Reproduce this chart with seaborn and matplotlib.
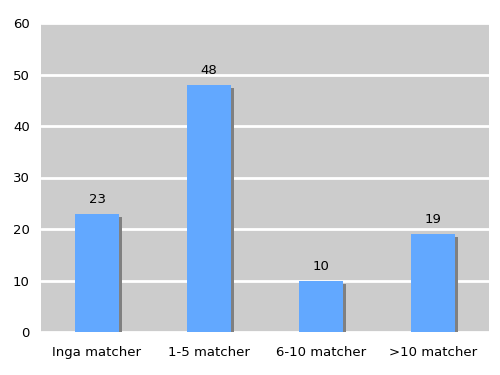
import matplotlib
matplotlib.use("Agg")
import matplotlib.pyplot as plt
import matplotlib.patheffects as pe
import seaborn as sns
import pandas as pd

categories = ["Inga matcher", "1-5 matcher", "6-10 matcher", ">10 matcher"]
values = [23, 48, 10, 19]
yticks = [0, 10, 20, 30, 40, 50, 60]

sns.set_theme(style="white")
plt.rcParams['font.family'] = ['DejaVu Sans']

df = pd.DataFrame({"cat": categories, "val": values})
fig = plt.figure(figsize=(5, 3.75), dpi=100)
ax = fig.add_axes([41/500, 1 - 332/375, 448/500, 309/375])
ax.set_facecolor("#cccccc")
sns.barplot(data=df, x="cat", y="val", color="#62a8ff", saturation=1, width=0.4, ax=ax, zorder=3)
for p in ax.patches:
    p.set_linewidth(0)
    p.set_path_effects([pe.SimplePatchShadow(offset=(2.2, -2.2), shadow_rgbFace="#808080", alpha=1), pe.Normal()])
ax.set_ylim(0, 60)
ax.set_yticks(yticks)
ax.set_yticklabels([str(t) for t in yticks], fontsize=9.5, color="black")
ax.tick_params(axis='x', labelsize=9.5, colors="black", pad=10)
ax.tick_params(axis='y', pad=8, length=0)
ax.tick_params(axis='x', length=0)
ax.yaxis.grid(True, color="white", linewidth=2)
ax.set_axisbelow(True)
for s in ax.spines.values():
    s.set_visible(False)
ax.set_xlabel("")
ax.set_ylabel("")
for i, v in enumerate(values):
    ax.text(i, v + 1.5, str(v), ha="center", va="bottom", fontsize=9.5, color="black")
fig.savefig("out.png", dpi=100)
